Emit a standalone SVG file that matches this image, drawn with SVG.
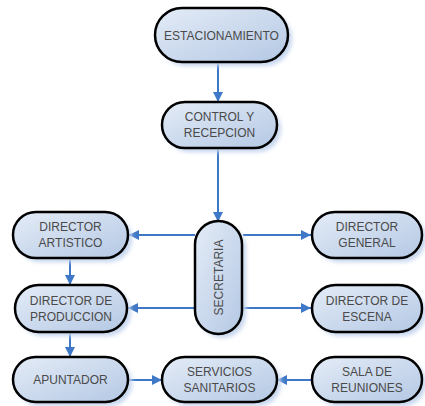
<svg xmlns="http://www.w3.org/2000/svg" width="425" height="406" viewBox="0 0 425 406">
<defs>
<linearGradient id="g" x1="0" y1="0" x2="1" y2="1">
<stop offset="0" stop-color="#e4ecf7"/>
<stop offset="1" stop-color="#b4c8e4"/>
</linearGradient>
<filter id="sh" x="-20%" y="-20%" width="140%" height="140%">
<feGaussianBlur stdDeviation="2"/>
</filter>
<marker id="ah" viewBox="0 0 10 10" refX="10" refY="5" markerWidth="10" markerHeight="10" markerUnits="userSpaceOnUse" orient="auto">
<path d="M0,0 L10,5 L0,10 z" fill="#3f78c6"/>
</marker>
</defs>
<style>
.sh{fill:#c6d6ee;filter:url(#sh);}
.n{fill:url(#g);stroke:#000;stroke-width:2.5;}
.t{font-family:"Liberation Sans",Arial,sans-serif;font-size:12px;fill:#4a4a4a;text-anchor:middle;}
.c{stroke:#3f78c6;stroke-width:2;fill:none;marker-end:url(#ah);}
</style>
<rect width="425" height="406" fill="#fff"/>
<g id="connectors">
<line class="c" x1="218" y1="62" x2="218" y2="102"/>
<line class="c" x1="218" y1="148" x2="218" y2="222"/>
<line class="c" x1="195" y1="235" x2="129" y2="235"/>
<line class="c" x1="243" y1="235" x2="311" y2="235"/>
<line class="c" x1="195" y1="308" x2="128" y2="308"/>
<line class="c" x1="243" y1="308" x2="311" y2="308"/>
<line class="c" x1="70" y1="258" x2="70" y2="285"/>
<line class="c" x1="70" y1="332" x2="70" y2="357"/>
<line class="c" x1="128" y1="380" x2="162" y2="380"/>
<line class="c" x1="312" y1="380" x2="277" y2="380"/>
</g>
<g id="estacionamiento">
<rect class="sh" x="159" y="12" width="133" height="54" rx="27"/>
<rect class="n" x="155" y="8" width="133" height="54" rx="27"/>
<text class="t" x="221.5" y="39.5">ESTACIONAMIENTO</text>
</g>
<g id="control">
<rect class="sh" x="166" y="106" width="115" height="46" rx="23"/>
<rect class="n" x="162" y="102" width="115" height="46" rx="23"/>
<text class="t" x="219.5" y="121">CONTROL Y</text>
<text class="t" x="219.5" y="137">RECEPCION</text>
</g>
<g id="secretaria">
<rect class="sh" x="199" y="225" width="47" height="113" rx="23.5"/>
<rect class="n" x="195" y="221" width="47" height="113" rx="23.5"/>
<text class="t" transform="translate(222.5,277.5) rotate(-90)" x="0" y="0">SECRETARIA</text>
</g>
<g id="artistico">
<rect class="sh" x="17" y="216" width="115" height="46" rx="23"/>
<rect class="n" x="13" y="212" width="115" height="46" rx="23"/>
<text class="t" x="70.5" y="231">DIRECTOR</text>
<text class="t" x="70.5" y="247">ARTISTICO</text>
</g>
<g id="general">
<rect class="sh" x="316" y="216" width="110" height="46" rx="23"/>
<rect class="n" x="312" y="212" width="110" height="46" rx="23"/>
<text class="t" x="367" y="231">DIRECTOR</text>
<text class="t" x="367" y="247">GENERAL</text>
</g>
<g id="produccion">
<rect class="sh" x="19" y="289" width="112" height="47" rx="23.5"/>
<rect class="n" x="15" y="285" width="112" height="47" rx="23.5"/>
<text class="t" x="71" y="304.5">DIRECTOR DE</text>
<text class="t" x="71" y="320.5">PRODUCCION</text>
</g>
<g id="escena">
<rect class="sh" x="316" y="289" width="110" height="47" rx="23.5"/>
<rect class="n" x="312" y="285" width="110" height="47" rx="23.5"/>
<text class="t" x="367" y="304.5">DIRECTOR DE</text>
<text class="t" x="367" y="320.5">ESCENA</text>
</g>
<g id="apuntador">
<rect class="sh" x="17" y="361" width="115" height="45" rx="22.5"/>
<rect class="n" x="13" y="357" width="115" height="45" rx="22.5"/>
<text class="t" x="70.5" y="384">APUNTADOR</text>
</g>
<g id="servicios">
<rect class="sh" x="166" y="361" width="115" height="45" rx="22.5"/>
<rect class="n" x="162" y="357" width="115" height="45" rx="22.5"/>
<text class="t" x="219.5" y="376">SERVICIOS</text>
<text class="t" x="219.5" y="392">SANITARIOS</text>
</g>
<g id="sala">
<rect class="sh" x="316" y="361" width="110" height="45" rx="22.5"/>
<rect class="n" x="312" y="357" width="110" height="45" rx="22.5"/>
<text class="t" x="367" y="376">SALA DE</text>
<text class="t" x="367" y="392">REUNIONES</text>
</g>
</svg>
